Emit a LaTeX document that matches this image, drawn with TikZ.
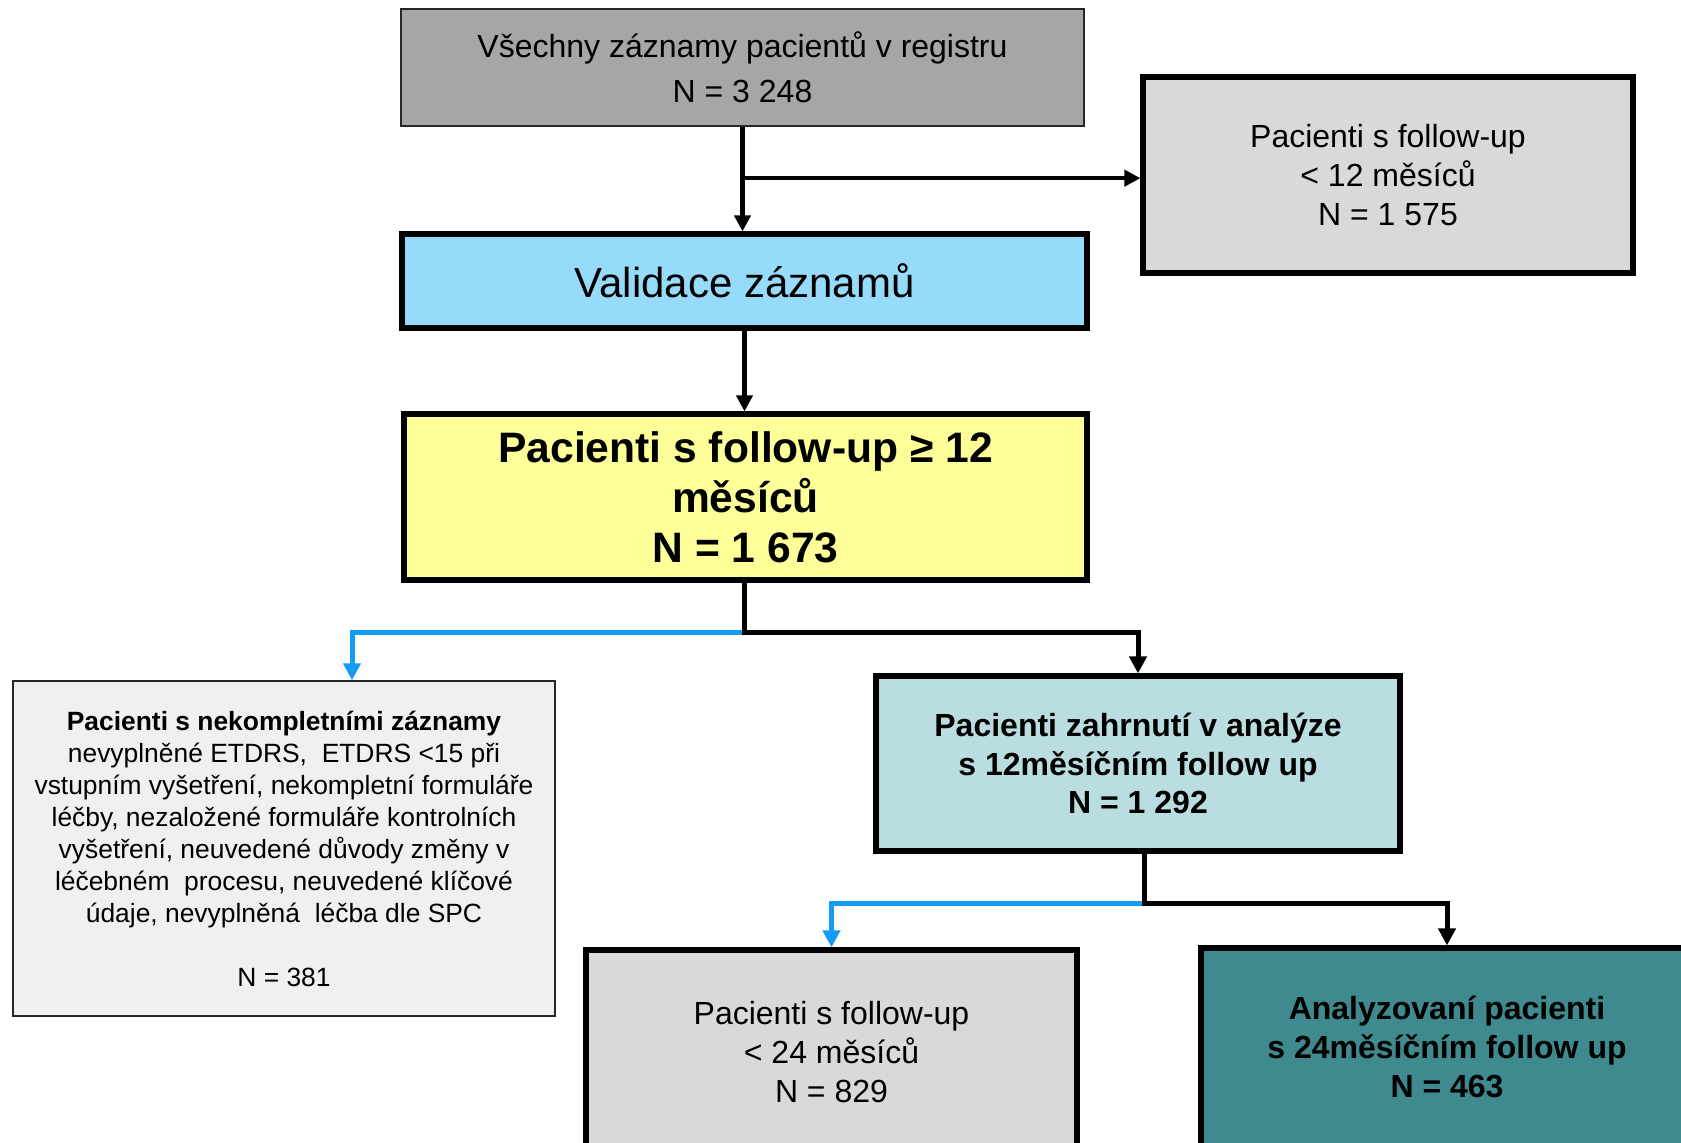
\documentclass[tikz,border=0pt]{standalone}
\usepackage{fontspec}
\setmainfont{Liberation Sans}
\usetikzlibrary{arrows.meta,positioning,calc}
\definecolor{allgray}{RGB}{166,166,166}
\definecolor{lightgray}{RGB}{217,217,217}
\definecolor{palegray}{RGB}{240,240,240}
\definecolor{valblue}{RGB}{150,219,250}
\definecolor{ylw}{RGB}{255,255,153}
\definecolor{inclblue}{RGB}{185,221,225}
\definecolor{teal}{RGB}{62,138,143}
\definecolor{arrblue}{RGB}{20,155,245}

\begin{document}
\begin{tikzpicture}[x=0.5pt, y=-0.5pt,
  thinbox/.style={draw=black!85, line width=1pt, align=center, inner sep=2pt},
  thickbox/.style={draw=black, line width=2.6pt, align=center, inner sep=2pt},
  arr/.style={-{Triangle[length=8pt,width=8pt]}, line width=2.1pt},
  arrb/.style={-{Triangle[length=8.5pt,width=8.5pt]}, line width=2.5pt},
  barr/.style={-{Triangle[length=8.5pt,width=8.5pt]}, arrblue, line width=2.5pt},
]
\clip (0,0) rectangle (1681,1142);
\fill[white] (0,0) rectangle (1681,1142);

\node[thinbox, fill=allgray, minimum width=341.5pt, minimum height=58.5pt,
      font=\fontsize{16}{22.5}\selectfont] (all) at (742.5,67.5)
  {Všechny záznamy pacientů v registru\\N = 3 248};
\node[thickbox, fill=lightgray, minimum width=245pt, minimum height=98pt,
      font=\fontsize{16}{19.3}\selectfont] (lt12) at (1388,175)
  {Pacienti s follow-up\\< 12 měsíců\\N = 1 575};
\node[thickbox, fill=valblue, minimum width=342.5pt, minimum height=47pt,
      font=\fontsize{21}{25}\selectfont] (val) at (744.5,281)
  {Validace záznamů};
\node[thickbox, fill=ylw, minimum width=341.5pt, minimum height=83pt,
      font=\fontsize{21.3}{25}\selectfont\bfseries] (ge12) at (745.5,497)
  {Pacienti s follow-up ≥ 12\\měsíců\\N = 1 673};
\node[thinbox, line width=0.75pt, fill=palegray, minimum width=271pt, minimum height=167.5pt,
      font=\fontsize{13.2}{16}\selectfont] (inc) at (284,848.5)
  {\textbf{Pacienti s nekompletními záznamy}\\
   nevyplněné ETDRS, \ ETDRS <15 při\\
   vstupním vyšetření, nekompletní formuláře\\
   léčby, nezaložené formuláře kontrolních\\
   vyšetření, neuvedené důvody změny v\\
   léčebném \ procesu, neuvedené klíčové\\
   údaje, nevyplněná \ léčba dle SPC\\[16pt]
   N = 381};
\node[thickbox, fill=inclblue, minimum width=262pt, minimum height=87.5pt,
      font=\fontsize{16}{19.3}\selectfont\bfseries] (incl) at (1138,763.5)
  {Pacienti zahrnutí v analýze\\s 12měsíčním follow up\\N = 1 292};
\node[thickbox, fill=lightgray, minimum width=245.5pt, minimum height=102pt,
      font=\fontsize{16}{19.3}\selectfont] (lt24) at (831.5,1052)
  {Pacienti s follow-up\\< 24 měsíců\\N = 829};
\node[thickbox, fill=teal, minimum width=246pt, minimum height=99pt,
      font=\fontsize{16}{19.3}\selectfont\bfseries] (ana) at (1447,1047)
  {Analyzovaní pacienti\\s 24měsíčním follow up\\N = 463};

% upper part
\draw[arr] (all.south) -- (all.south |- val.north);
\coordinate (b1) at ($(all.south)!0.49!(all.south |- val.north)$);
\draw[arr] (b1) -- (b1 -| lt12.west);
\draw[arr] (val.south) -- (val.south |- ge12.north);

% split after follow-up >= 12
\coordinate (s1) at ($(ge12.south)+(-1,50)$);
\coordinate (t1) at ($(inc.north)+(68,0)$);
\draw[barr] (s1) -| (t1);
\draw[arrb] (ge12.south -| s1) -- (s1) -| (incl.north);

% split after 12-month analysis
\coordinate (s2) at ($(incl.south)+(6,50)$);
\draw[barr] (s2) -| (lt24.north);
\draw[arrb] (incl.south -| s2) -- (s2) -| (ana.north);

\end{tikzpicture}
\end{document}
